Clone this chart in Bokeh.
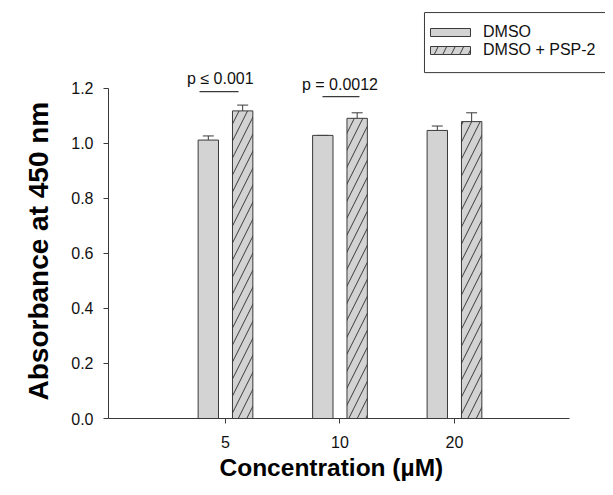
import numpy as np
from bokeh.plotting import figure
from bokeh.models import (ColumnDataSource, Whisker, TeeHead, Legend, LegendItem,
                          FixedTicker, Range1d, Title)
from bokeh.core.properties import value
from bokeh.embed import file_html
from bokeh.resources import INLINE

# ---- data ----
conc = ["5", "10", "20"]
dmso = [1.011, 1.028, 1.046]
dmso_err = [0.015, 0.0, 0.016]
psp2 = [1.117, 1.090, 1.078]
psp2_err = [0.021, 0.020, 0.032]
series_names = ["DMSO", "DMSO + PSP-2"]
sig_labels = ["p \u2264 0.001", "p = 0.0012"]
y_ticks = [0.0, 0.2, 0.4, 0.6, 0.8, 1.0, 1.2]
x_title = "Concentration (\u00b5M)"
y_title = "Absorbance at 450 nm"

FONT = "Liberation Sans"
DARK = "#3a3a3a"
GRAY = "#d3d3d3"

pos = np.arange(len(conc)) + 1.0
off = 0.15
bw = 0.178

src1 = ColumnDataSource(dict(x=pos - off, top=dmso, up=np.array(dmso) + np.array(dmso_err)))
src2 = ColumnDataSource(dict(x=pos + off, top=psp2, up=np.array(psp2) + np.array(psp2_err)))

p = figure(width=605, height=487, output_backend="svg", toolbar_location=None,
           x_range=Range1d(-0.0218, 4.319), y_range=Range1d(0, 1.5178),
           min_border_left=108, min_border_right=0, min_border_top=0,
           min_border_bottom=69)
p.outline_line_color = None
p.grid.visible = False
p.background_fill_color = "white"

r1 = p.vbar(x="x", top="top", width=bw, source=src1, fill_color=GRAY,
            line_color=DARK, line_width=1)
r2 = p.vbar(x="x", top="top", width=bw, source=src2, fill_color=GRAY,
            line_color=DARK, line_width=1, hatch_pattern="/", hatch_scale=17,
            hatch_color=DARK, hatch_weight=1)

for s in (src1, src2):
    w = Whisker(base="x", lower="top", upper="up", source=s, dimension="height",
                line_color=DARK, line_width=1, lower_head=None,
                upper_head=TeeHead(size=11, line_color=DARK, line_width=1))
    p.add_layout(w)

# significance annotations
ann = ColumnDataSource(dict(x=[0.955, 2.0], y=[1.233, 1.213], t=sig_labels))
p.text(x="x", y="y", text="t", source=ann, text_font=value(FONT),
       text_font_size="16px", text_color="#111", text_align="center",
       text_baseline="alphabetic")
p.segment(x0=[0.773, 1.847], y0=[1.187, 1.169], x1=[1.114, 2.170], y1=[1.187, 1.169],
          line_color=DARK, line_width=1.3)

# axes
xa = p.xaxis[0]
xa.ticker = FixedTicker(ticks=list(pos))
xa.major_label_overrides = {float(v): c for v, c in zip(pos, conc)}
xa.bounds = (-0.0218, 4.004)
ya = p.yaxis[0]
ya.ticker = FixedTicker(ticks=y_ticks)
ya.major_label_overrides = {v: f"{v:.1f}" for v in y_ticks}
ya.bounds = (0, 1.2)

for a in (xa, ya):
    a.axis_line_color = DARK
    a.major_tick_line_color = DARK
    a.major_tick_out = 5
    a.major_tick_in = 0
    a.minor_tick_line_color = None
    a.major_label_text_font = FONT
    a.major_label_text_font_size = "16px"
    a.major_label_text_color = "#111"
xa.major_label_standoff = 12
ya.major_label_standoff = 10

# axis titles (positioned along the axis lines, not the whole frame)
p.add_layout(Title(text=x_title, align="left", offset=111, text_font=FONT,
                   text_font_size="24.5px", text_font_style="bold",
                   text_color="#000", standoff=2), "below")
p.add_layout(Title(text=y_title, align="left", offset=18, text_font=FONT,
                   text_font_size="28px", text_font_style="bold",
                   text_color="#000", standoff=25, vertical_align="top"), "left")

# legend
p.segment(x0=[2.738, 2.738, 2.738], y0=[1.474, 1.256, 1.256],
          x1=[4.6, 4.6, 2.738], y1=[1.474, 1.256, 1.474],
          line_color=DARK, line_width=1)
legend = Legend(items=[LegendItem(label=series_names[0], renderers=[r1]),
                       LegendItem(label=series_names[1], renderers=[r2])],
                location=(317, 359), padding=2, spacing=0,
                glyph_width=50, glyph_height=10, label_height=12, label_standoff=8,
                label_text_font=FONT, label_text_font_size="16px",
                label_text_color="#111", border_line_color=None,
                background_fill_alpha=0)
p.add_layout(legend)

open("out.html", "w").write(file_html(p, INLINE))
